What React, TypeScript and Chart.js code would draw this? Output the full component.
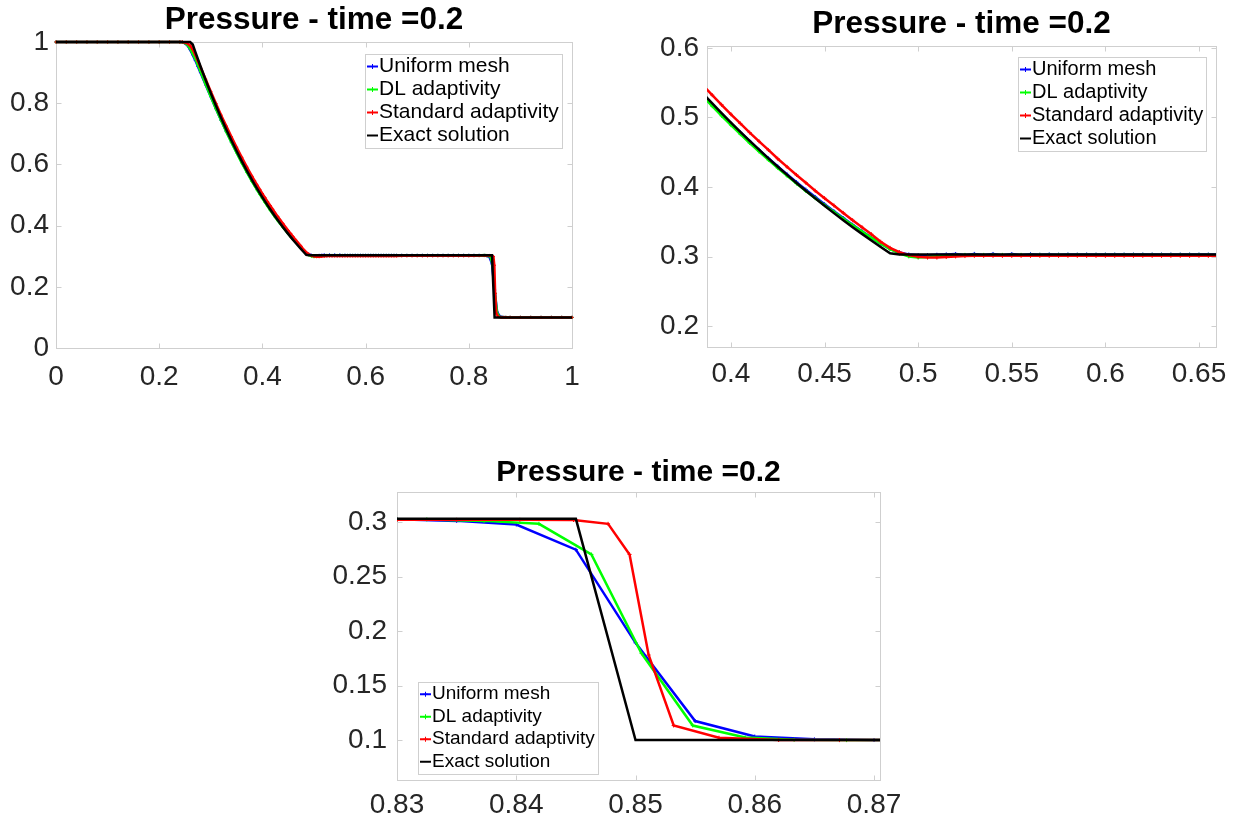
import React, { useEffect, useRef } from 'react';
import { Chart, registerables } from 'chart.js';

Chart.register(...registerables);

// ---------------- data ----------------
const seriesLabels = ['Uniform mesh', 'DL adaptivity', 'Standard adaptivity', 'Exact solution'];
const titleText = 'Pressure - time =0.2';

const uniformX = [0, 0.02, 0.04, 0.06, 0.08, 0.1, 0.12, 0.14, 0.16, 0.18, 0.2, 0.22, 0.24,
  0.245, 0.25, 0.255, 0.26, 0.265, 0.27, 0.275, 0.28, 0.29, 0.3, 0.31, 0.32, 0.33, 0.34, 0.35, 0.36, 0.37, 0.38,
  0.385, 0.39, 0.395, 0.4, 0.405, 0.41, 0.415, 0.42, 0.425, 0.43, 0.435, 0.44, 0.445, 0.45, 0.455, 0.46, 0.465, 0.47, 0.475, 0.48,
  0.485, 0.49, 0.495, 0.5, 0.505, 0.51, 0.515, 0.52, 0.525, 0.53, 0.535, 0.54, 0.545, 0.55, 0.555, 0.56, 0.565, 0.57, 0.575, 0.58,
  0.585, 0.59, 0.595, 0.6, 0.605, 0.61, 0.615, 0.62, 0.625, 0.63, 0.635, 0.64, 0.645, 0.65, 0.655, 0.66,
  0.67, 0.68, 0.69, 0.7, 0.71, 0.72, 0.73, 0.74, 0.75, 0.76, 0.77, 0.78, 0.79, 0.8, 0.81, 0.82, 0.83,
  0.835, 0.84, 0.845, 0.85, 0.855, 0.86, 0.865, 0.87, 0.88, 0.9, 0.92, 0.94, 0.96, 0.98, 1];
const uniformP = [1, 1, 1, 1, 1, 1, 1, 1, 1, 1, 1, 1, 1,
  0.999, 0.996, 0.988, 0.975, 0.958, 0.94, 0.92, 0.9, 0.86, 0.821, 0.782, 0.744, 0.708, 0.673, 0.639, 0.607, 0.576, 0.546,
  0.532, 0.518, 0.5045, 0.4913, 0.4785, 0.4658, 0.4534, 0.4412, 0.4296, 0.4181, 0.407, 0.3962, 0.3856, 0.3752, 0.3651, 0.3553, 0.3456, 0.3363, 0.3272, 0.3186,
  0.311, 0.3058, 0.303, 0.3018, 0.302, 0.3026, 0.3031, 0.3036, 0.3022, 0.3038, 0.3021, 0.3037, 0.302, 0.3035, 0.3022, 0.3033, 0.3026, 0.3031, 0.3027, 0.303,
  0.3028, 0.303, 0.3028, 0.3029, 0.3029, 0.3029, 0.3029, 0.3029, 0.3029, 0.3029, 0.3029, 0.3029, 0.3029, 0.3029, 0.3029, 0.3029,
  0.3029, 0.3029, 0.3029, 0.3029, 0.3029, 0.3029, 0.3029, 0.3029, 0.3029, 0.3029, 0.3029, 0.3029, 0.3029, 0.3029, 0.3028, 0.3027, 0.3026,
  0.3012, 0.2978, 0.2748, 0.1893, 0.1175, 0.1033, 0.1007, 0.1001, 0.1, 0.1, 0.1, 0.1, 0.1, 0.1, 0.1];

const dlX = [0, 0.02, 0.04, 0.06, 0.08, 0.1, 0.12, 0.14, 0.16, 0.18, 0.2, 0.22, 0.24,
  0.245, 0.25, 0.255, 0.26, 0.265, 0.27, 0.275, 0.28, 0.29, 0.3, 0.31, 0.32, 0.33, 0.34, 0.35, 0.36, 0.37, 0.38,
  0.385, 0.39, 0.395, 0.4, 0.405, 0.41, 0.415, 0.42, 0.425, 0.43, 0.435, 0.44, 0.445, 0.45, 0.455, 0.46, 0.465, 0.47, 0.475, 0.48,
  0.485, 0.49, 0.495, 0.5, 0.505, 0.51, 0.515, 0.52, 0.525, 0.53, 0.535, 0.54, 0.545, 0.55, 0.555, 0.56, 0.565, 0.57, 0.575, 0.58,
  0.585, 0.59, 0.595, 0.6, 0.605, 0.61, 0.615, 0.62, 0.625, 0.63, 0.635, 0.64, 0.645, 0.65, 0.655, 0.66,
  0.67, 0.68, 0.69, 0.7, 0.71, 0.72, 0.73, 0.74, 0.75, 0.76, 0.77, 0.78, 0.79, 0.8, 0.81, 0.82,
  0.8277, 0.83, 0.8325, 0.8373, 0.8419, 0.8463, 0.8505, 0.8548, 0.8592, 0.8633, 0.8677, 0.872,
  0.88, 0.9, 0.92, 0.94, 0.96, 0.98, 1];
const dlP = [1, 1, 1, 1, 1, 1, 1, 1, 1, 1, 1, 1, 1,
  0.9995, 0.997, 0.99, 0.978, 0.962, 0.945, 0.925, 0.904, 0.862, 0.822, 0.782, 0.744, 0.707, 0.672, 0.638, 0.605, 0.574, 0.544,
  0.5302, 0.5161, 0.5023, 0.4889, 0.4759, 0.4632, 0.4509, 0.4389, 0.4272, 0.4159, 0.4049, 0.3942, 0.3839, 0.3738, 0.3639, 0.3543, 0.3449, 0.3359, 0.327, 0.3186,
  0.3108, 0.3045, 0.3002, 0.2985, 0.2992, 0.3008, 0.3018, 0.3022, 0.3024, 0.3024, 0.3024, 0.3024, 0.3024, 0.3024, 0.3024, 0.3024, 0.3024, 0.3024, 0.3024, 0.3024,
  0.3024, 0.3024, 0.3024, 0.3024, 0.3024, 0.3024, 0.3024, 0.3024, 0.3024, 0.3024, 0.3024, 0.3024, 0.3024, 0.3024, 0.3024, 0.3024,
  0.3024, 0.3024, 0.3024, 0.3024, 0.3024, 0.3024, 0.3024, 0.3024, 0.3024, 0.3024, 0.3024, 0.3024, 0.3024, 0.3024, 0.3024, 0.3024,
  0.3025, 0.3025, 0.3025, 0.3012, 0.2985, 0.2704, 0.1797, 0.1134, 0.1025, 0.1003, 0.1, 0.1,
  0.1, 0.1, 0.1, 0.1, 0.1, 0.1, 0.1];

const stdX = [0, 0.02, 0.04, 0.06, 0.08, 0.1, 0.12, 0.14, 0.16, 0.18, 0.2, 0.22, 0.24,
  0.245, 0.25, 0.255, 0.26, 0.265, 0.27, 0.275, 0.28, 0.29, 0.3, 0.31, 0.32, 0.33, 0.34, 0.35, 0.36, 0.37, 0.38,
  0.385, 0.39, 0.395, 0.4, 0.405, 0.41, 0.415, 0.42, 0.425, 0.43, 0.435, 0.44, 0.445, 0.45, 0.455, 0.46, 0.465, 0.47, 0.475, 0.48,
  0.485, 0.49, 0.495, 0.5, 0.505, 0.51, 0.515, 0.52, 0.525, 0.53, 0.535, 0.54, 0.545, 0.55, 0.555, 0.56, 0.565, 0.57, 0.575, 0.58,
  0.585, 0.59, 0.595, 0.6, 0.605, 0.61, 0.615, 0.62, 0.625, 0.63, 0.635, 0.64, 0.645, 0.65, 0.655, 0.66,
  0.67, 0.68, 0.69, 0.7, 0.71, 0.72, 0.73, 0.74, 0.75, 0.76, 0.77, 0.78, 0.79, 0.8, 0.81, 0.82, 0.83,
  0.835, 0.8403, 0.8448, 0.8477, 0.8495, 0.8511, 0.8532, 0.857, 0.862, 0.8671, 0.872,
  0.88, 0.9, 0.92, 0.94, 0.96, 0.98, 1];
const stdP = [1, 1, 1, 1, 1, 1, 1, 1, 1, 1, 1, 1, 1,
  1, 0.998, 0.995, 0.988, 0.975, 0.958, 0.938, 0.918, 0.878, 0.838, 0.799, 0.761, 0.725, 0.69, 0.656, 0.623, 0.591, 0.561,
  0.5462, 0.532, 0.5181, 0.5045, 0.4913, 0.4782, 0.4656, 0.4532, 0.4406, 0.4288, 0.4173, 0.406, 0.3946, 0.3839, 0.3734, 0.3627, 0.3522, 0.3421, 0.3321, 0.3213,
  0.3125, 0.3062, 0.302, 0.2997, 0.2986, 0.2985, 0.2993, 0.3002, 0.3007, 0.301, 0.301, 0.301, 0.301, 0.301, 0.301, 0.301, 0.301, 0.301, 0.301, 0.301,
  0.301, 0.301, 0.301, 0.301, 0.301, 0.301, 0.301, 0.301, 0.301, 0.301, 0.301, 0.301, 0.301, 0.301, 0.301, 0.301,
  0.3012, 0.3012, 0.3012, 0.3012, 0.3012, 0.3012, 0.3012, 0.3012, 0.3012, 0.3012, 0.3012, 0.3012, 0.3012, 0.3012, 0.3016, 0.3019, 0.3022,
  0.3022, 0.3022, 0.302, 0.2985, 0.2704, 0.1781, 0.1134, 0.1022, 0.1001, 0.1, 0.1,
  0.1, 0.1, 0.1, 0.1, 0.1, 0.1, 0.1];

const exactX = [0, 0.26, 0.265, 0.27, 0.28, 0.29, 0.3, 0.31, 0.32, 0.33, 0.34, 0.35, 0.36, 0.37, 0.38,
  0.385, 0.39, 0.395, 0.4, 0.405, 0.41, 0.415, 0.42, 0.425, 0.43, 0.435, 0.44, 0.445, 0.45, 0.455, 0.46, 0.465, 0.47, 0.475, 0.48, 0.485,
  0.49, 0.845, 0.85, 1];
const exactP = [1, 1, 0.9919, 0.9677, 0.9208, 0.8758, 0.8327, 0.7915, 0.752, 0.7142, 0.6781, 0.6436, 0.6105, 0.5789, 0.5488,
  0.5342, 0.52, 0.5061, 0.4925, 0.4792, 0.4662, 0.4536, 0.4412, 0.4291, 0.4173, 0.4058, 0.3945, 0.3836, 0.3729, 0.3624, 0.3522, 0.3422, 0.3326, 0.3231, 0.3138, 0.3048,
  0.3031, 0.3031, 0.1, 0.1];

// tick labels per panel
const fullXTicks = [0, 0.2, 0.4, 0.6, 0.8, 1];
const fullYTicks = [0, 0.2, 0.4, 0.6, 0.8, 1];
const rareXTicks = [0.4, 0.45, 0.5, 0.55, 0.6, 0.65];
const rareYTicks = [0.2, 0.3, 0.4, 0.5, 0.6];
const shockXTicks = [0.83, 0.84, 0.85, 0.86, 0.87];
const shockYTicks = [0.1, 0.15, 0.2, 0.25, 0.3];

// ---------------- styles / layout ----------------
const FONT = "'Liberation Sans', Arial, Helvetica, sans-serif";
const seriesColors = ['#0000ff', '#00ff00', '#ff0000', '#000000'];
const TICK_COLOR = '#262626';
const AXIS_COLOR = '#cfcfcf';

const zip = (xs: number[], ys: number[]) => xs.map((x, i) => ({ x, y: ys[i] }));

const panels = [
  {
    left: 0, top: 0, w: 620, h: 410,
    area: { l: 56, r: 572, t: 42, b: 348 },
    xr: [0, 1], yr: [0, 1], xt: fullXTicks, yt: fullYTicks,
    titleSize: 31.5, titlePad: 5, xPad: 12, yPad: 7,
    legend: { corner: 'ne', mx: 10, my: 12, size: 21, rowH: 23 },
    pr: 1.6, bw: 2.5, clip: { left: 2, right: 2, top: 3, bottom: 3 },
  },
  {
    left: 620, top: 0, w: 619, h: 410,
    area: { l: 87, r: 596, t: 46, b: 347 },
    xr: [0.3872, 0.6591], yr: [0.17, 0.6026], xt: rareXTicks, yt: rareYTicks,
    titleSize: 31.5, titlePad: 9, xPad: 10, yPad: 8,
    legend: { corner: 'ne', mx: 10, my: 11, size: 20, rowH: 23 },
    pr: 2, bw: 2.5, clip: { left: 0, right: 0, top: 0, bottom: 0 },
  },
  {
    left: 300, top: 440, w: 620, h: 382,
    area: { l: 97, r: 580, t: 52, b: 340 },
    xr: [0.83, 0.8705], yr: [0.0634, 0.3277], xt: shockXTicks, yt: shockYTicks,
    titleSize: 30, titlePad: 18, xPad: 8, yPad: 10,
    legend: { corner: 'sw', mx: 21, my: 6, size: 19, rowH: 22.5 },
    pr: 2, bw: 2.5, clip: { left: 0, right: 0, top: 0, bottom: 0 },
  },
];

const TICK_SIZE = 28;

const framePlugin = {
  id: 'frameTicks',
  beforeDatasetsDraw(chart: any) {
    const { ctx, chartArea: a, scales } = chart;
    const L = 5;
    ctx.save();
    ctx.strokeStyle = AXIS_COLOR;
    ctx.lineWidth = 1;
    const l = Math.round(a.left) + 0.5, r = Math.round(a.right) + 0.5;
    const t = Math.round(a.top) + 0.5, b = Math.round(a.bottom) + 0.5;
    ctx.strokeRect(l, t, r - l, b - t);
    ctx.beginPath();
    scales.x.ticks.forEach((tk: any) => {
      const px = Math.round(scales.x.getPixelForValue(tk.value)) + 0.5;
      ctx.moveTo(px, b); ctx.lineTo(px, b - L);
      ctx.moveTo(px, t); ctx.lineTo(px, t + L);
    });
    scales.y.ticks.forEach((tk: any) => {
      const py = Math.round(scales.y.getPixelForValue(tk.value)) + 0.5;
      ctx.moveTo(l, py); ctx.lineTo(l + L, py);
      ctx.moveTo(r, py); ctx.lineTo(r - L, py);
    });
    ctx.stroke();
    ctx.restore();
  },
};

const legendPlugin = {
  id: 'boxLegend',
  afterDatasetsDraw(chart: any, _args: any, opts: any) {
    const { ctx, chartArea: a } = chart;
    const ds = chart.data.datasets;
    ctx.save();
    ctx.font = `${opts.size}px ${FONT}`;
    const tw = Math.max(...ds.map((d: any) => ctx.measureText(d.label).width));
    const padL = 2, lineLen = 11, gap = 1, padR = 3;
    const w = Math.round(padL + lineLen + gap + tw + padR);
    const h = Math.round(opts.rowH * ds.length + 2);
    let x0: number, y0: number;
    if (opts.corner === 'ne') {
      x0 = Math.round(a.right - opts.mx - w);
      y0 = Math.round(a.top + opts.my);
    } else {
      x0 = Math.round(a.left + opts.mx);
      y0 = Math.round(a.bottom - opts.my - h);
    }
    ctx.fillStyle = '#ffffff';
    ctx.fillRect(x0, y0, w, h);
    ctx.strokeStyle = AXIS_COLOR;
    ctx.lineWidth = 1;
    ctx.strokeRect(x0 + 0.5, y0 + 0.5, w, h);
    ds.forEach((d: any, i: number) => {
      const cy = y0 + 1 + opts.rowH * (i + 0.5);
      ctx.strokeStyle = d.borderColor;
      ctx.lineWidth = 2;
      ctx.beginPath();
      ctx.moveTo(x0 + padL, cy);
      ctx.lineTo(x0 + padL + lineLen, cy);
      ctx.stroke();
      if (d.pointRadius > 0) {
        const cx = x0 + padL + lineLen / 2;
        ctx.lineWidth = 1;
        ctx.beginPath();
        ctx.moveTo(cx - 2.5, cy); ctx.lineTo(cx + 2.5, cy);
        ctx.moveTo(cx, cy - 2.5); ctx.lineTo(cx, cy + 2.5);
        ctx.stroke();
      }
      ctx.fillStyle = '#000000';
      ctx.textAlign = 'left';
      ctx.textBaseline = 'middle';
      ctx.fillText(d.label, x0 + padL + lineLen + gap, cy);
    });
    ctx.restore();
  },
};

function makeDatasets(pr: number, bw: number, clip: any) {
  const sets = [zip(uniformX, uniformP), zip(dlX, dlP), zip(stdX, stdP), zip(exactX, exactP)];
  return sets.map((data, i) => ({
    label: seriesLabels[i],
    data,
    borderColor: seriesColors[i],
    backgroundColor: seriesColors[i],
    borderWidth: bw,
    pointStyle: 'cross',
    pointRadius: i === 3 ? 0 : pr,
    pointBorderWidth: 1,
    pointBorderColor: seriesColors[i],
    pointHoverRadius: 0,
    tension: 0,
    fill: false,
    clip,
    order: 4 - i,
  }));
}

function buildConfig(p: any): any {
  const tickFont = { family: FONT, size: TICK_SIZE, lineHeight: 1.2 };
  return {
    type: 'line',
    data: { datasets: makeDatasets(p.pr, p.bw, p.clip) },
    options: {
      responsive: false,
      animation: false,
      devicePixelRatio: 1,
      events: [],
      layout: { padding: { left: 0, right: p.w - p.area.r, top: 0, bottom: 0 } },
      plugins: {
        legend: { display: false },
        tooltip: { enabled: false },
        title: {
          display: true,
          fullSize: false,
          text: titleText,
          color: '#000000',
          font: { family: FONT, size: p.titleSize, weight: 'bold', lineHeight: 1 },
          padding: { top: p.titlePad, bottom: p.area.t - p.titlePad - p.titleSize },
        },
        boxLegend: p.legend,
      },
      scales: {
        x: {
          type: 'linear',
          min: p.xr[0],
          max: p.xr[1],
          grid: { display: false, drawTicks: false },
          border: { display: false },
          ticks: {
            font: tickFont, color: TICK_COLOR, padding: p.xPad, autoSkip: false,
            maxRotation: 0, minRotation: 0, callback: (v: number) => String(v),
          },
          afterBuildTicks: (s: any) => { s.ticks = p.xt.map((v: number) => ({ value: v })); },
          afterFit: (s: any) => { s.height = p.h - p.area.b; },
        },
        y: {
          type: 'linear',
          min: p.yr[0],
          max: p.yr[1],
          grid: { display: false, drawTicks: false },
          border: { display: false },
          ticks: {
            font: tickFont, color: TICK_COLOR, padding: p.yPad, autoSkip: false,
            callback: (v: number) => String(v),
          },
          afterBuildTicks: (s: any) => { s.ticks = p.yt.map((v: number) => ({ value: v })); },
          afterFit: (s: any) => { s.width = p.area.l; },
        },
      },
    },
    plugins: [framePlugin, legendPlugin],
  };
}

function Panel({ p }: { p: any }) {
  const ref = useRef<HTMLCanvasElement>(null);
  useEffect(() => {
    if (!ref.current) return;
    const chart = new Chart(ref.current, buildConfig(p));
    return () => chart.destroy();
  }, []);
  return (
    <canvas
      ref={ref}
      width={p.w}
      height={p.h}
      style={{ position: 'absolute', left: p.left, top: p.top, width: p.w, height: p.h, display: 'block' }}
    />
  );
}

export default function App() {
  return (
    <div style={{ position: 'absolute', left: 0, top: 0, width: 1239, height: 822, background: '#ffffff', overflow: 'hidden' }}>
      {panels.map((p, i) => <Panel key={i} p={p} />)}
    </div>
  );
}
